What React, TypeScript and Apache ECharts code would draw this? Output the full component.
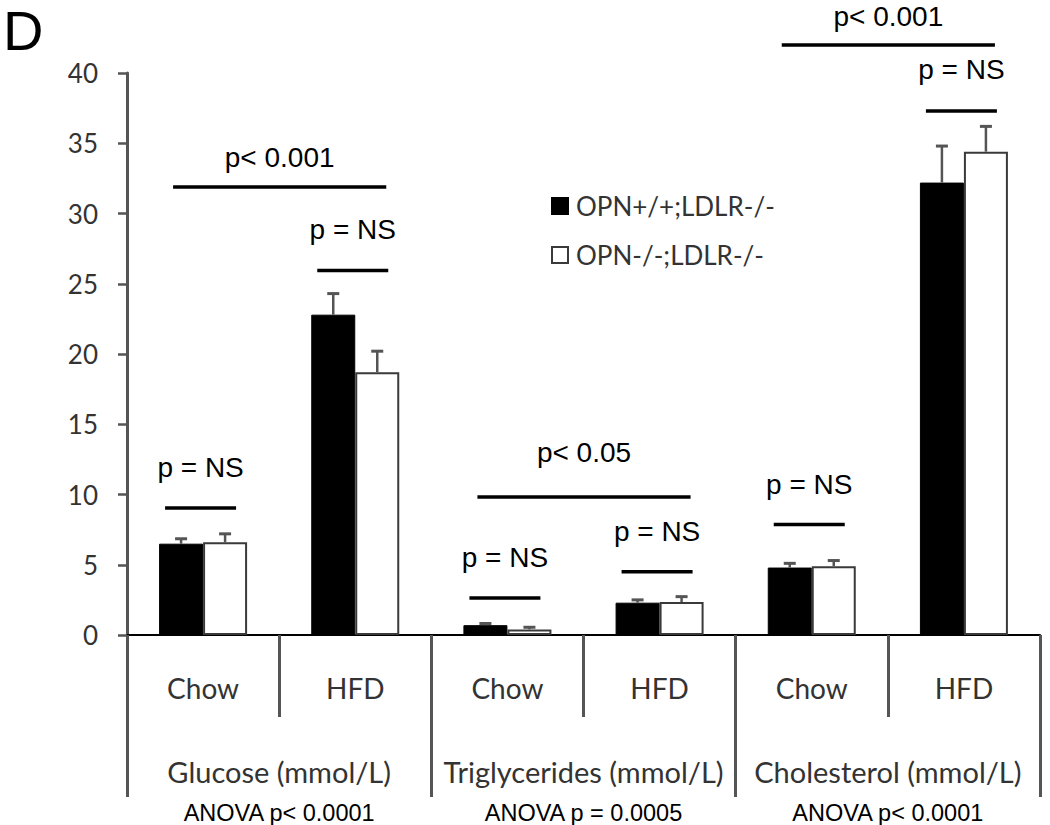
import React, { useEffect, useRef } from "react";
import * as echarts from "echarts";

const categories = ["Chow", "HFD", "Chow", "HFD", "Chow", "HFD"];
const groups = ["Glucose (mmol/L)", "Triglycerides (mmol/L)", "Cholesterol (mmol/L)"];
const anovaLabels = ["ANOVA p< 0.0001", "ANOVA p = 0.0005", "ANOVA p< 0.0001"];
const seriesNames = ["OPN+/+;LDLR-/-", "OPN-/-;LDLR-/-"];
const wildTypeMeans = [6.5, 22.8, 0.7, 2.3, 4.8, 32.2];
const wildTypeErrors = [0.35, 1.5, 0.12, 0.2, 0.3, 2.6];
const knockoutMeans = [6.6, 18.7, 0.4, 2.35, 4.9, 34.4];
const knockoutErrors = [0.6, 1.5, 0.15, 0.38, 0.4, 1.8];
const yMin = 0;
const yMax = 40;
const yStep = 5;

// significance brackets: category span, line level and label level (data units)
const compFrom = [0, 1, 0, 2, 3, 2, 4, 5, 4];
const compTo = [0, 1, 1, 2, 3, 3, 4, 5, 5];
const compLineLevel = [9.04, 25.95, 31.89, 2.63, 4.51, 9.82, 7.87, 37.3, 41.99];
const compTextLevel = [11.89, 28.83, 34.02, 5.55, 7.35, 13.02, 10.72, 40.25, 43.99];
const compLabels = ["p = NS", "p = NS", "p< 0.001", "p = NS", "p = NS", "p< 0.05", "p = NS", "p = NS", "p< 0.001"];

const CAL = "Lato, 'Open Sans', sans-serif";
const ARIAL = "'Liberation Sans', Arial, sans-serif";
const AXIS_GRAY = "#555";

export default function App() {
  const ref = useRef<HTMLDivElement>(null);
  useEffect(() => {
    if (!ref.current) return;
    const chart = echarts.init(ref.current, null, { renderer: "svg" });
    const BAR_W = 44;

    const errSeries = (means: number[], errs: number[], offset: number) => ({
      type: "custom",
      xAxisIndex: 0,
      yAxisIndex: 0,
      z: 5,
      clip: false,
      data: means.map((m, i) => [i, m, errs[i]]),
      encode: { x: 0, y: 1 },
      renderItem: (params: any, api: any) => {
        const i = api.value(0);
        const m = api.value(1);
        const e = api.value(2);
        const base = api.coord([i, m]);
        const top = api.coord([i, m + e]);
        const x = base[0] + offset;
        return {
          type: "group",
          children: [
            { type: "line", shape: { x1: x, y1: base[1], x2: x, y2: top[1] }, style: { stroke: AXIS_GRAY, lineWidth: 2.5 } },
            { type: "line", shape: { x1: x - 6, y1: top[1], x2: x + 6, y2: top[1] }, style: { stroke: AXIS_GRAY, lineWidth: 3 } },
          ],
        };
      },
    });

    const option: any = {
      animation: false,
      grid: { left: 127, right: 10, top: 73, bottom: 190 },
      legend: {
        data: seriesNames,
        orient: "vertical",
        left: 546,
        top: 188,
        itemWidth: 16,
        itemHeight: 16,
        itemGap: 23,
        icon: "rect",
        selectedMode: false,
        textStyle: { fontFamily: CAL, fontSize: 26, color: "#333", padding: [0, 0, 0, 3] },
      },
      xAxis: [
        {
          type: "category",
          data: categories,
          position: "bottom",
          axisLine: { show: true, lineStyle: { color: "#000", width: 2 } },
          axisTick: { show: true, interval: 0, length: 82, lineStyle: { color: AXIS_GRAY, width: 3 } },
          axisLabel: { interval: 0, margin: 39, fontFamily: CAL, fontSize: 28, color: "#333" },
        },
        {
          type: "category",
          data: groups,
          position: "bottom",
          axisLine: { show: false },
          axisTick: { show: true, interval: 0, length: 162, lineStyle: { color: AXIS_GRAY, width: 3 } },
          axisLabel: { interval: 0, margin: 122, fontFamily: CAL, fontSize: 29, color: "#333" },
        },
        {
          type: "category",
          data: anovaLabels,
          position: "bottom",
          axisLine: { show: false },
          axisTick: { show: false },
          axisLabel: { interval: 0, margin: 166, fontFamily: "'Liberation Sans Narrow', " + ARIAL, fontSize: 23.5, color: "#000" },
        },
      ],
      yAxis: {
        type: "value",
        min: yMin,
        max: yMax,
        interval: yStep,
        axisLine: { show: true, lineStyle: { color: AXIS_GRAY, width: 3 } },
        axisTick: { show: true, length: 9, lineStyle: { color: AXIS_GRAY, width: 2.5 } },
        splitLine: { show: false },
        axisLabel: { margin: 29, fontFamily: CAL, fontSize: 26, color: "#333" },
      },
      series: [
        {
          name: seriesNames[0],
          type: "bar",
          data: wildTypeMeans,
          barWidth: BAR_W,
          barGap: "0%",
          itemStyle: { color: "#000", borderColor: "#000", borderWidth: 1 },
        },
        {
          name: seriesNames[1],
          type: "bar",
          data: knockoutMeans,
          barWidth: BAR_W,
          barGap: "0%",
          itemStyle: { color: "#fff", borderColor: "#3a3a3a", borderWidth: 2 },
        },
        errSeries(wildTypeMeans, wildTypeErrors, -BAR_W / 2),
        errSeries(knockoutMeans, knockoutErrors, BAR_W / 2),
        {
          type: "custom",
          xAxisIndex: 0,
          yAxisIndex: 0,
          z: 6,
          clip: false,
          data: compFrom.map((f, i) => [f, compTo[i], compLineLevel[i], compTextLevel[i], i]),
          encode: { x: 0, y: 2 },
          renderItem: (params: any, api: any) => {
            const f = api.value(0);
            const t = api.value(1);
            const ly = api.coord([f, api.value(2)])[1];
            const ty = api.coord([f, api.value(3)])[1];
            const idx = api.value(4);
            const xf = api.coord([f, 0])[0];
            const xt = api.coord([t, 0])[0];
            let x1: number, x2: number;
            if (f === t) {
              x1 = xf - 38;
              x2 = xf + 33;
            } else {
              x1 = xf - 30;
              x2 = xt + 31;
            }
            const cx = (x1 + x2) / 2;
            return {
              type: "group",
              children: [
                { type: "line", shape: { x1, y1: ly, x2, y2: ly }, style: { stroke: "#000", lineWidth: 3.5 } },
                {
                  type: "text",
                  x: cx,
                  y: ty,
                  style: { text: compLabels[idx], fill: "#000", fontSize: 28, fontFamily: ARIAL, align: "center", verticalAlign: "middle" },
                },
              ],
            };
          },
        },
      ],
      graphic: [
        {
          type: "text",
          left: 3,
          top: 2,
          style: { text: "D", fill: "#000", fontSize: 56, fontFamily: ARIAL },
        },
      ],
    };
    chart.setOption(option);
    return () => chart.dispose();
  }, []);
  return <div ref={ref} style={{ position: "absolute", left: 0, top: 0, width: 1050, height: 825, background: "#fff" }} />;
}
